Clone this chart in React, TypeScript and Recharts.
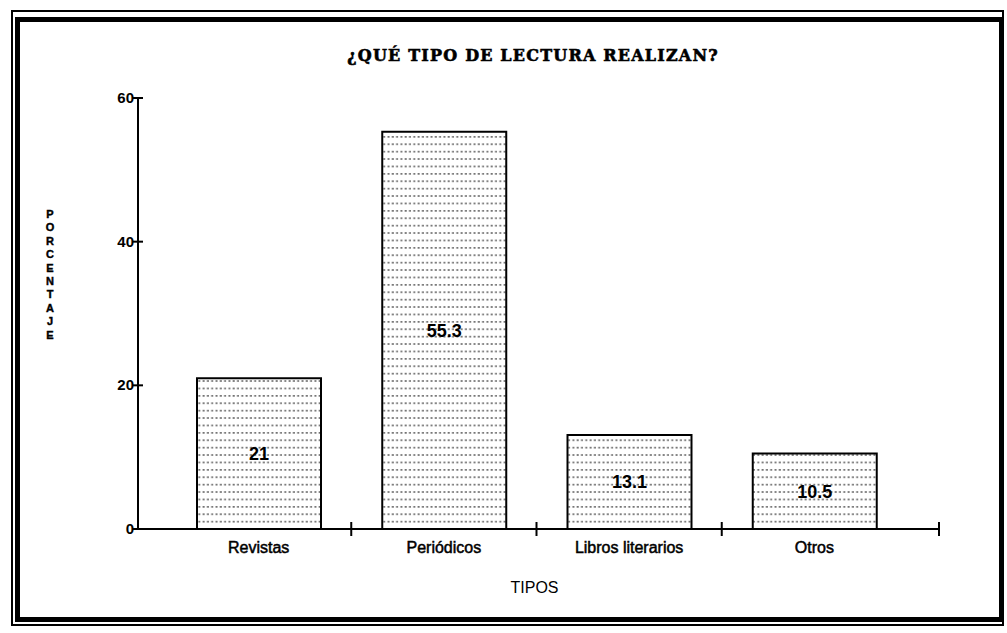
import React from "react";
import { BarChart, Bar, XAxis, YAxis, LabelList, Label } from "recharts";

const categories = ["Revistas", "Periódicos", "Libros literarios", "Otros"];
const percentages = [21, 55.3, 13.1, 10.5];
const yTicks = [0, 20, 40, 60];
const title = "¿QUÉ TIPO DE LECTURA REALIZAN?";
const yTitle = "PORCENTAJE";
const xTitle = "TIPOS";

const data = categories.map((c, i) => ({ tipo: c, valor: percentages[i] }));

const W = 1007;
const H = 633;
const M = { top: 98, right: 68, bottom: 0, left: 0 };
const Y_W = 138;
const X_H = 104;
const PAD = { left: 28, right: 32 };
const PLOT_W = W - M.left - M.right - Y_W;
const BAND = (PLOT_W - PAD.left - PAD.right) / categories.length;
const SANS = "'Liberation Sans', Arial, sans-serif";

const XTick = (props: any) => {
  const { x, y, payload, index } = props;
  const tx = index === categories.length - 1 ? x + BAND / 2 + PAD.right : x + BAND / 2;
  return (
    <g>
      <line x1={tx} x2={tx} y1={y - 7} y2={y + 7} stroke="#000" strokeWidth={2} />
      <text x={x} y={y + 24} textAnchor="middle" fontFamily={SANS} fontSize={16} fill="#000" stroke="#000" strokeWidth={0.5}>
        {payload.value}
      </text>
    </g>
  );
};

const YTick = (props: any) => {
  const { x, y, payload } = props;
  return (
    <g>
      <line x1={x - 5} x2={x + 5} y1={y} y2={y} stroke="#000" strokeWidth={2} />
      <text x={x - 4} y={y + 5} textAnchor="end" fontFamily={SANS} fontWeight="bold" fontSize={15} fill="#000">
        {payload.value}
      </text>
    </g>
  );
};

const YTitle = () => (
  <text fontFamily={SANS} fontWeight="bold" fontSize={11} fill="#000" textAnchor="middle" stroke="#000" strokeWidth={0.4}>
    {yTitle.split("").map((ch, i) => (
      <tspan key={i} x={50} y={218 + 13.4 * i}>
        {ch}
      </tspan>
    ))}
  </text>
);

export default function App() {
  return (
    <div style={{ position: "absolute", left: 0, top: 0, width: W, height: H, background: "#fff" }}>
      <BarChart width={W} height={H} data={data} margin={M}>
        <defs>
          <pattern id="dots" width="4.3" height="7.4" patternUnits="userSpaceOnUse">
            <rect width="4.3" height="7.4" fill="#fff" />
            <rect x="0.5" y="3" width="2" height="1.3" fill="#444" />
          </pattern>
        </defs>
        <text
          x={533}
          y={61}
          textAnchor="middle"
          fontFamily="'DejaVu Serif', serif"
          fontWeight="bold"
          fontSize={16}
          letterSpacing={1.2}
          fill="#000"
          stroke="#000"
          strokeWidth={0.6}
        >
          {title}
        </text>
        <XAxis
          dataKey="tipo"
          height={X_H}
          padding={PAD}
          tickLine={false}
          tickSize={0}
          tickMargin={0}
          tick={<XTick />}
          interval={0}
          axisLine={{ stroke: "#000", strokeWidth: 2 }}
        >
          <Label value={xTitle} position="center" dy={6} dx={-4} fontFamily={SANS} fontSize={16} fill="#000" />
        </XAxis>
        <YAxis
          width={Y_W}
          domain={[0, 60]}
          ticks={yTicks}
          tickLine={false}
          tickSize={0}
          tickMargin={0}
          tick={<YTick />}
          axisLine={{ stroke: "#000", strokeWidth: 2 }}
          label={{ content: <YTitle /> }}
        />
        <Bar dataKey="valor" barSize={124} fill="url(#dots)" stroke="#000" strokeWidth={2} isAnimationActive={false}>
          <LabelList dataKey="valor" position="center" fontFamily={SANS} fontWeight="bold" fontSize={18} fill="#000" />
        </Bar>
      </BarChart>
      <div
        style={{
          position: "absolute",
          left: 11,
          top: 10,
          width: 993,
          height: 616,
          border: "2px solid #000",
          boxSizing: "border-box",
          pointerEvents: "none",
        }}
      />
      <div
        style={{
          position: "absolute",
          left: 15,
          top: 17,
          width: 989,
          height: 605,
          border: "5px solid #000",
          boxSizing: "border-box",
          pointerEvents: "none",
        }}
      />
    </div>
  );
}
